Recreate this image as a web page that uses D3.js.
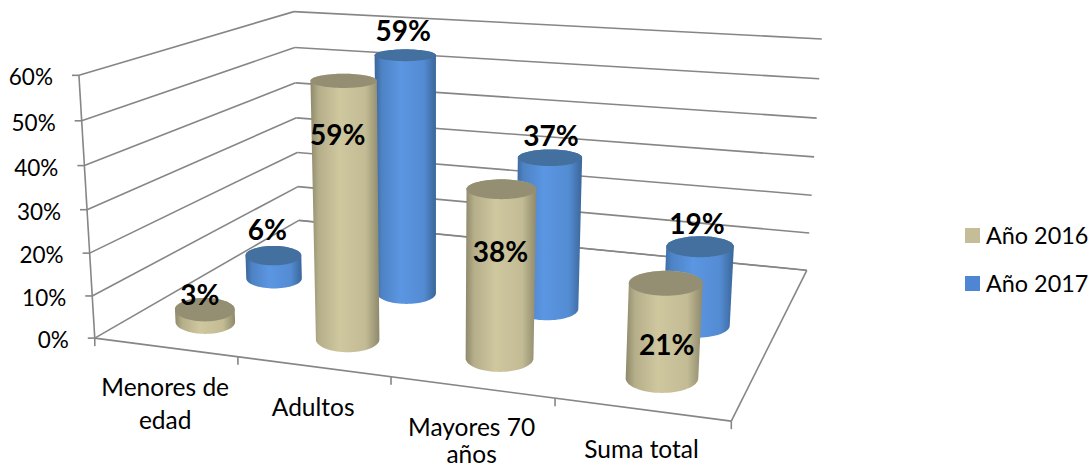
<!DOCTYPE html>
<html><head><meta charset="utf-8">
<script src="https://cdn.jsdelivr.net/npm/d3@7"></script>
<style>html,body{margin:0;background:#fff}svg{display:block}text{font-family:Lato,"Noto Sans",sans-serif;fill:#000}</style>
</head><body><svg id="c" width="1091" height="470"></svg>
<script>
const categories = ["Menores de edad","Adultos","Mayores 70 años","Suma total"];
const categoryLines = [["Menores de","edad"],["Adultos"],["Mayores 70","años"],["Suma total"]];
const series = ["Año 2016","Año 2017"];
const values2016 = [3,59,38,21];
const values2017 = [6,59,37,19];
const yTicks = [0,10,20,30,40,50,60];
const seriesColors = {"Año 2016":"#c4bd97","Año 2017":"#4f86d3"};

// camera calibration: box coordinates [u,d,v] -> picture
const calibration = [
 [0,0,0,95,338],[0,0,1,79,75],[0,1,0,299,220],[0,1,1,294,12],
 [1,1,0,807,270],[1,1,1,822,39],[1,0,0,731,421],
 [.25,0,0,238,358],[.5,0,0,391,377],[.75,0,0,555,398],
 [0,0,.5,87,209],[1,1,.5,814,157],[0,1,.5,296,118]];
function solve(A,b){const n=b.length;const M=A.map((r,i)=>[...r,b[i]]);
 for(let i=0;i<n;i++){let p=i;for(let k=i+1;k<n;k++)if(Math.abs(M[k][i])>Math.abs(M[p][i]))p=k;
  [M[i],M[p]]=[M[p],M[i]];
  for(let k=0;k<n;k++){if(k===i)continue;const f=M[k][i]/M[i][i];for(let j=i;j<=n;j++)M[k][j]-=f*M[i][j];}}
 return M.map((r,i)=>r[n]/r[i]);}
const rows=[],rhs=[];
calibration.forEach(([X,Y,Z,x,y])=>{x/=1000;y/=1000;
 rows.push([X,Y,Z,1,0,0,0,0,-x*X,-x*Y,-x*Z]);rhs.push(x);
 rows.push([0,0,0,0,X,Y,Z,1,-y*X,-y*Y,-y*Z]);rhs.push(y);});
const ATA=d3.range(11).map(i=>d3.range(11).map(j=>d3.sum(rows,r=>r[i]*r[j])));
const ATb=d3.range(11).map(i=>d3.sum(rows,(r,k)=>r[i]*rhs[k]));
const P=solve(ATA,ATb);
function project(u,d,v){const w=P[8]*u+P[9]*d+P[10]*v+1;
 return [1000*(P[0]*u+P[1]*d+P[2]*v+P[3])/w,1000*(P[4]*u+P[5]*d+P[6]*v+P[7])/w];}

const yScale=d3.scaleLinear().domain([0,60]).range([0,1]);
const xBand=d3.scaleBand().domain(categories).range([0,1]);
const depth=d3.scalePoint().domain(series).range([.172,.508]);
const radiusU=.054, radiusD=.085;
const svg=d3.select("#c");
const defs=svg.append("defs");
const closed=d3.line().curve(d3.curveLinearClosed);
const GRID="#868686";

function seg(a,b,w=1.6){svg.append("line").attr("x1",a[0]).attr("y1",a[1]).attr("x2",b[0]).attr("y2",b[1])
 .attr("stroke",GRID).attr("stroke-width",w);}
yTicks.forEach(t=>{const v=yScale(t);
 seg(project(0,0,v),project(0,1,v));
 seg(project(0,1,v),project(1,1,v));
 const p=project(0,0,v);
 seg([p[0]-7,p[1]],p);
 svg.append("text").attr("x",p[0]-26).attr("y",p[1]+10).attr("text-anchor","end")
  .attr("font-size",22.5).text(t+"%");
});
seg(project(0,0,0),project(0,0,1));
seg(project(0,0,0),project(1,0,0));
seg(project(1,0,0),project(1,1,0));
seg(project(1,1,0),project(0,1,0),1.3);
d3.range(0,5).forEach(i=>{const p=project(i/4,0,0);seg(p,[p[0],p[1]+8]);});
categoryLines.forEach((ls,i)=>{const c=categories[i];
 const p=project(xBand(c)+xBand.bandwidth()/2,0,0);
 ls.forEach((l,k)=>svg.append("text").attr("x",p[0]).attr("y",Math.min(p[1]+49+k*33,463))
  .attr("text-anchor","middle").attr("font-size",24.5).text(l));
});
const shades={"Año 2016":{dark:"#8e896b",mid:"#cfc79e",top:"#948f72"},
              "Año 2017":{dark:"#3a6699",mid:"#5b96e2",top:"#43709f"}};
series.forEach((s,i)=>{const g=defs.append("linearGradient").attr("id","g"+i);
 const mix=d3.interpolateRgb(shades[s].dark,shades[s].mid);
 [[0,shades[s].dark],[.12,mix(.6)],[.42,shades[s].mid],[.8,mix(.8)],[1,shades[s].dark]]
  .forEach(([o,c])=>g.append("stop").attr("offset",o).attr("stop-color",c));});

function ellipse(u,d,v){
 const c=project(u,d,v);
 const rx=(project(u+radiusU,d,v)[0]-project(u-radiusU,d,v)[0])/2;
 const ry=Math.abs(project(u,d+radiusD,v)[1]-project(u,d-radiusD,v)[1])/2;
 return d3.range(0,72).map(k=>{const a=k/72*2*Math.PI;return [c[0]+rx*Math.cos(a),c[1]+ry*Math.sin(a)];});
}
function cylinder(si,u,d,val){const v=yScale(val);
 const top=ellipse(u,d,v),base=ellipse(u,d,0);
 const hull=d3.polygonHull(top.concat(base));
 svg.append("path").attr("d",closed(hull)).attr("fill",`url(#g${si})`);
 svg.append("path").attr("d",closed(top)).attr("fill",shades[series[si]].top);
}
const valuesBySeries=[values2016,values2017];
[1,0].forEach(si=>categories.forEach((c,i)=>
 cylinder(si,xBand(c)+xBand.bandwidth()/2,depth(series[si]),valuesBySeries[si][i])));

const labelOffsets=[[[-5,-5],[-6,64],[-1,73],[1,72]],[[-6,-16],[-2,-14],[1,-12],[-3,-13]]];
[1,0].forEach(si=>categories.forEach((c,i)=>{
 const val=valuesBySeries[si][i];
 const p=project(xBand(c)+xBand.bandwidth()/2,depth(series[si]),yScale(val));
 const o=labelOffsets[si][i];
 svg.append("text").attr("x",p[0]+o[0]).attr("y",p[1]+o[1]).attr("text-anchor","middle")
  .attr("font-size",28).attr("font-weight",700).text(val+"%");
}));
const legendY=d3.scalePoint().domain(series).range([235.5,283.5]);
series.forEach(s=>{
 svg.append("rect").attr("x",965).attr("y",legendY(s)-7.5).attr("width",15).attr("height",15).attr("fill",seriesColors[s]);
 svg.append("text").attr("x",986).attr("y",legendY(s)+8).attr("font-size",23.4).text(s);
});
</script></body></html>
